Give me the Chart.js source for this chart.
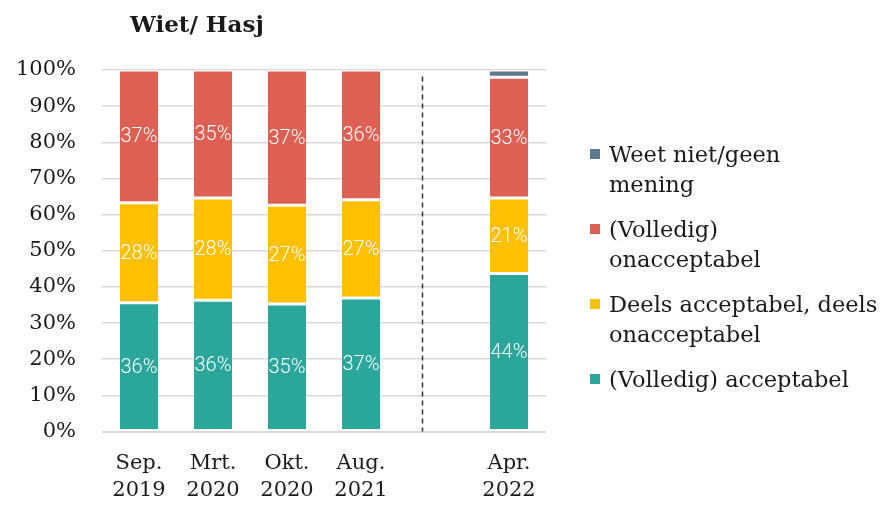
<!DOCTYPE html>
<html>
<head>
<meta charset="utf-8">
<script src="https://cdn.jsdelivr.net/npm/chart.js@4"></script>
<style>
  html, body { margin: 0; padding: 0; background: #fff; }
  #wrap { width: 882px; height: 506px; }
</style>
</head>
<body>
<div id="wrap"><canvas id="wietChart" width="882" height="506"></canvas></div>
<script>
// Survey waves (empty slot = gap before the dashed separator)
const labels = [['Sep.', '2019'], ['Mrt.', '2020'], ['Okt.', '2020'], ['Aug.', '2021'], '', ['Apr.', '2022']];

// Shares in %
const acceptabel   = [35.6, 36.3, 35.3, 36.9, null, 43.7];
const deels        = [27.7, 28.3, 27.3, 27.2, null, 20.9];
const onacceptabel = [36.7, 35.4, 37.4, 35.9, null, 33.4];
const weetNiet     = [null, null, null, null, null, 2.0];

const yTicks = [0, 10, 20, 30, 40, 50, 60, 70, 80, 90, 100];

const serif = '"DejaVu Serif", "Liberation Serif", serif';

// white % labels inside the segments
const segmentLabels = {
  id: 'segmentLabels',
  afterDatasetsDraw(chart) {
    const ctx = chart.ctx;
    ctx.save();
    ctx.fillStyle = '#fff';
    ctx.font = '300 20px Roboto, "Liberation Sans", sans-serif';
    ctx.textAlign = 'center';
    ctx.textBaseline = 'middle';
    chart.data.datasets.forEach((ds, i) => {
      if (ds.noLabels) return;
      chart.getDatasetMeta(i).data.forEach((bar, j) => {
        const v = ds.data[j];
        if (v == null) return;
        ctx.fillText(Math.round(v) + '%', bar.x, (bar.y + bar.base) / 2 + 1);
      });
    });
    ctx.restore();
  }
};

// dashed separator between Aug. 2021 and Apr. 2022
const separator = {
  id: 'separator',
  afterDatasetsDraw(chart) {
    const x = chart.scales.x, y = chart.scales.y;
    const px = x.getPixelForValue(3) + 0.82 * (x.getPixelForValue(4) - x.getPixelForValue(3));
    const ctx = chart.ctx;
    ctx.save();
    ctx.strokeStyle = '#333';
    ctx.lineWidth = 1.5;
    ctx.setLineDash([5, 4]);
    ctx.beginPath();
    ctx.moveTo(Math.round(px) + 0.5, y.getPixelForValue(98.2));
    ctx.lineTo(Math.round(px) + 0.5, y.getPixelForValue(0));
    ctx.stroke();
    ctx.restore();
  }
};

// title + wrapped legend on the right
const decorations = {
  id: 'decorations',
  afterDraw(chart) {
    const ctx = chart.ctx;
    const area = chart.chartArea;
    ctx.save();
    ctx.fillStyle = '#1a1a1a';
    ctx.textBaseline = 'alphabetic';
    ctx.font = 'bold 23px ' + serif;
    ctx.fillText('Wiet/ Hasj', area.left + 28, 32);

    ctx.font = '22.5px ' + serif;
    const ds = chart.data.datasets.slice().reverse();
    ds.forEach((d, i) => {
      const baseY = area.top + 92 + i * 75;
      ctx.fillStyle = d.backgroundColor;
      ctx.fillRect(area.right + 44, baseY - 13, 10, 10);
      ctx.fillStyle = '#1a1a1a';
      d.legendLines.forEach((line, k) => {
        ctx.fillText(line, area.right + 63, baseY + k * 30);
      });
    });
    ctx.restore();
  }
};

const border = { top: 1.5, bottom: 1.5, left: 0, right: 0 };

new Chart(document.getElementById('wietChart'), {
  type: 'bar',
  data: {
    labels: labels,
    datasets: [
      { label: '(Volledig) acceptabel', legendLines: ['(Volledig) acceptabel'], data: acceptabel,
        backgroundColor: '#2aa69a', borderColor: '#fff', borderWidth: border, borderSkipped: false },
      { label: 'Deels acceptabel, deels onacceptabel', legendLines: ['Deels acceptabel, deels', 'onacceptabel'], data: deels,
        backgroundColor: '#ffc000', borderColor: '#fff', borderWidth: border, borderSkipped: false },
      { label: '(Volledig) onacceptabel', legendLines: ['(Volledig)', 'onacceptabel'], data: onacceptabel,
        backgroundColor: '#de5f54', borderColor: '#fff', borderWidth: border, borderSkipped: false },
      { label: 'Weet niet/geen mening', legendLines: ['Weet niet/geen', 'mening'], data: weetNiet, noLabels: true,
        backgroundColor: '#5b7a8f', borderColor: '#fff', borderWidth: border, borderSkipped: false }
    ]
  },
  options: {
    responsive: false,
    animation: false,
    layout: { padding: { top: 70, right: 336, bottom: 0, left: 0 } },
    datasets: { bar: { categoryPercentage: 1, barPercentage: 0.514 } },
    scales: {
      x: {
        stacked: true,
        afterFit(scale) { scale.height = 74.5; },
        grid: { display: false },
        border: { display: false },
        ticks: {
          color: '#1a1a1a',
          font: { family: serif, size: 21, lineHeight: 1.3 },
          padding: 10,
          maxRotation: 0,
          autoSkip: false
        }
      },
      y: {
        stacked: true,
        min: 0,
        max: 100,
        afterFit(scale) { scale.width = 102; },
        afterBuildTicks(scale) { scale.ticks = yTicks.map(v => ({ value: v })); },
        grid: {
          color: '#d9d9d9',
          lineWidth: ctx => ctx.tick && ctx.tick.value === 0 ? 2 : 1.5,
          drawTicks: false
        },
        border: { display: false },
        ticks: {
          color: '#1a1a1a',
          font: { family: serif, size: 21 },
          padding: 26,
          callback: v => v + '%'
        }
      }
    },
    plugins: {
      legend: { display: false },
      tooltip: { enabled: false }
    }
  },
  plugins: [segmentLabels, separator, decorations]
});
</script>
</body>
</html>
